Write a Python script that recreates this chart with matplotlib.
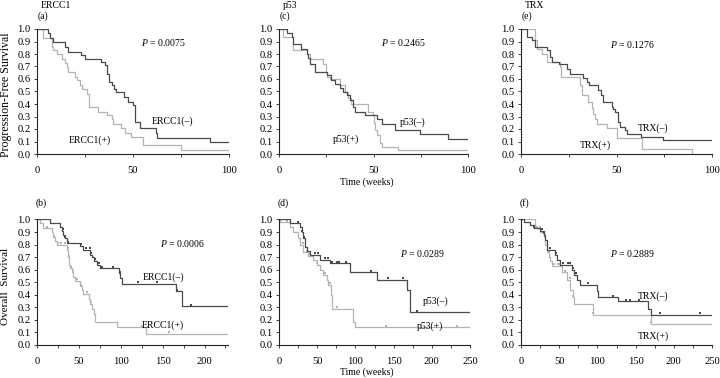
import matplotlib
matplotlib.use("Agg")
import matplotlib.pyplot as plt
import numpy as np
from matplotlib.ticker import MultipleLocator, FormatStrFormatter

plt.rcParams['font.family'] = ['Liberation Serif', 'DejaVu Serif']
plt.rcParams['mathtext.fontset'] = 'custom'
plt.rcParams['mathtext.rm'] = 'Liberation Serif'
plt.rcParams['mathtext.it'] = 'Liberation Serif:italic'

DARK = '#4a4a4a'
LIGHT = '#b4b4b4'

# ---- Progression-free survival (weeks) ----
ercc1_neg_pfs_t = [0, 5.6, 6.8, 8.5, 14.6, 16.3, 23, 25, 33.3, 35.4, 36.6, 37.5, 38.9, 40.3, 41.1,
                   45.3, 47.6, 50.2, 51, 53.6, 62, 62.5, 90]
ercc1_neg_pfs_s = [1.0, 0.97, 0.93, 0.90, 0.86, 0.82, 0.79, 0.76, 0.74, 0.71, 0.64, 0.58, 0.55, 0.52, 0.50,
                   0.46, 0.42, 0.39, 0.26, 0.21, 0.17, 0.13, 0.10]
ercc1_pos_pfs_t = [0, 3.3, 7.6, 8.5, 10.6, 12.8, 14.6, 15.5, 16.3, 19.8, 21, 22.4, 23.6, 26.2, 27.3,
                   31.9, 36.3, 38.9, 39.8, 44, 45.8, 49.2, 55, 74.8]
ercc1_pos_pfs_s = [1.0, 0.93, 0.86, 0.83, 0.80, 0.76, 0.73, 0.70, 0.66, 0.62, 0.59, 0.55, 0.52, 0.48, 0.38,
                   0.34, 0.31, 0.28, 0.24, 0.21, 0.17, 0.14, 0.07, 0.03]

p53_neg_pfs_t = [0, 4.4, 6.7, 7.2, 11.5, 14.6, 15.5, 16.4, 19, 25.2, 27.3, 29.6, 32.3, 34, 35.8, 37.6,
                 39.3, 40.2, 45.5, 51.7, 54.3, 61.4, 74.6, 89.6]
p53_neg_pfs_s = [1.0, 0.97, 0.94, 0.88, 0.84, 0.80, 0.77, 0.72, 0.66, 0.63, 0.59, 0.56, 0.53, 0.50,
                 0.47, 0.43, 0.38, 0.34, 0.31, 0.28, 0.24, 0.19, 0.16, 0.12]
p53_pos_pfs_t = [0, 2.3, 7.6, 14.6, 16.4, 23.5, 24.9, 25.6, 27, 32.3, 35, 36.7, 37.9, 47.3, 49.5,
                 50.3, 50.8, 51.7, 53.4, 54.3, 63]
p53_pos_pfs_s = [1.0, 0.94, 0.83, 0.80, 0.76, 0.72, 0.66, 0.62, 0.60, 0.55, 0.50, 0.45, 0.40, 0.34,
                 0.31, 0.25, 0.19, 0.15, 0.09, 0.06, 0.03]

trx_neg_pfs_t = [0, 3.1, 5.7, 7.5, 13.6, 15.3, 16.2, 19.7, 24.3, 25.7, 32.7, 34.4, 35.8, 40.5, 41.7,
                 43.1, 47.5, 48, 49.2, 51, 51.8, 54.4, 55.3, 63, 74.4]
trx_neg_pfs_s = [1.0, 0.94, 0.91, 0.86, 0.83, 0.78, 0.74, 0.72, 0.68, 0.64, 0.61, 0.58, 0.55, 0.51,
                 0.47, 0.42, 0.38, 0.36, 0.34, 0.26, 0.22, 0.19, 0.16, 0.14, 0.11]
trx_pos_pfs_t = [0, 7.5, 8.2, 10.8, 13.6, 20.3, 21.1, 31, 31.9, 35.3, 37.1, 37.9, 38.8, 39.6,
                 44.9, 50.4, 63.1, 89.6]
trx_pos_pfs_s = [1.0, 0.91, 0.84, 0.80, 0.74, 0.70, 0.62, 0.55, 0.47, 0.42, 0.37, 0.32, 0.28,
                 0.24, 0.21, 0.13, 0.04, 0.0]

# ---- Overall survival (weeks) ----
ercc1_neg_os_t = [0, 15.6, 27.5, 29.5, 31.5, 33.5, 35.5, 51.5, 55.5, 63.5, 65.5, 67.5, 71.5, 75.4,
                  97.4, 99.4, 101.4, 166, 173]
ercc1_neg_os_s = [1.0, 0.97, 0.94, 0.91, 0.88, 0.85, 0.81, 0.79, 0.76, 0.72, 0.70, 0.67, 0.64, 0.61,
                  0.57, 0.53, 0.49, 0.43, 0.31]
ercc1_neg_os_c = [30.5, 34, 36.7, 52, 59, 62.7, 65, 69, 72.5, 74, 77.4, 90.6, 99, 120, 143, 167, 184]
ercc1_pos_os_t = [0, 3.6, 7.6, 17.6, 19.6, 21.6, 23.6, 35.5, 37.5, 38.7, 39.5, 41.5, 43.5, 45.5,
                  51.5, 53.5, 55.5, 61.5, 63.5, 65.5, 67.5, 69.5, 95.4, 130]
ercc1_pos_os_s = [1.0, 0.97, 0.93, 0.90, 0.86, 0.83, 0.80, 0.76, 0.70, 0.64, 0.61, 0.58, 0.54, 0.51,
                  0.47, 0.44, 0.41, 0.37, 0.33, 0.29, 0.25, 0.18, 0.14, 0.09]
ercc1_pos_os_c = [11.6, 20.8, 25, 28.7, 33.5, 36.7, 38.3, 40.7, 42.7, 47.5, 52.5, 59.5, 64,
                  125, 157]

p53_neg_os_t = [0, 14.4, 27.5, 29.7, 31.9, 34, 36.2, 40.6, 53.7, 66.8, 93, 127.8, 167, 171.5]
p53_neg_os_s = [1.0, 0.97, 0.94, 0.90, 0.85, 0.78, 0.75, 0.72, 0.68, 0.65, 0.58, 0.52, 0.44, 0.26]
p53_neg_os_c = [25.3, 29.7, 32.7, 47, 50.6, 60, 64.6, 70, 76, 79, 87.7, 120, 143, 162.7, 180]
p53_pos_os_t = [0, 1.3, 14.4, 18.8, 25.3, 27.5, 31.9, 38.4, 44.9, 49.2, 53.7, 58, 62.4, 64.6, 67.7,
                69, 97.3, 99.5]
p53_pos_os_s = [1.0, 0.98, 0.94, 0.90, 0.85, 0.80, 0.74, 0.71, 0.68, 0.64, 0.60, 0.56, 0.52, 0.48,
                0.40, 0.29, 0.18, 0.14]
p53_pos_os_c = [10, 31.8, 36.2, 38.8, 40.6, 50.2, 60, 66.8, 75.5, 140, 233]

trx_neg_os_t = [0, 3.5, 12.2, 16.5, 25, 29.6, 31.8, 34, 44.8, 47, 51.3, 66.5, 69.6, 73, 77.4, 99,
                100.4, 127, 166.5, 169.6]
trx_neg_os_s = [1.0, 0.98, 0.96, 0.93, 0.91, 0.88, 0.84, 0.76, 0.72, 0.68, 0.64, 0.60, 0.56, 0.52,
                0.48, 0.43, 0.38, 0.35, 0.29, 0.24]
trx_neg_os_c = [16.5, 27.4, 29.6, 38, 46, 55.6, 61, 63.5, 68, 72, 88, 121, 138, 143, 155, 182, 234]
trx_pos_os_t = [0, 18.7, 25.2, 29.6, 31.8, 34, 36.2, 38.4, 40.6, 53.5, 60, 64.3, 67.8, 70,
                94.8, 169.6]
trx_pos_os_s = [1.0, 0.93, 0.90, 0.86, 0.80, 0.74, 0.70, 0.67, 0.63, 0.58, 0.52, 0.44, 0.38, 0.33,
                0.24, 0.17]
trx_pos_os_c = [7.8, 20.9, 25, 31.7, 36, 42.6, 47.8, 51.3, 57.8, 63.5, 68.7, 94.8, 169.6]

panels = [
    dict(col=0, row=0, letter='(a)', title='ERCC1', xmax=100,
         neg=(ercc1_neg_pfs_t, ercc1_neg_pfs_s, 100, None),
         pos=(ercc1_pos_pfs_t, ercc1_pos_pfs_s, 100, None),
         p='0.0075', pxy=(66, 0.89), nxy=(70.5, 0.265), sxy=(27.4, 0.11),
         nlab='ERCC1(\u2013)', slab='ERCC1(+)'),
    dict(col=1, row=0, letter='(c)', title='p53', xmax=100,
         neg=(p53_neg_pfs_t, p53_neg_pfs_s, 100, None),
         pos=(p53_pos_pfs_t, p53_pos_pfs_s, 100, None),
         p='0.2465', pxy=(66, 0.89), nxy=(70.5, 0.255), sxy=(35.3, 0.12),
         nlab='p53(\u2013)', slab='p53(+)'),
    dict(col=2, row=0, letter='(e)', title='TRX', xmax=100,
         neg=(trx_neg_pfs_t, trx_neg_pfs_s, 100, None),
         pos=(trx_pos_pfs_t, trx_pos_pfs_s, 89.6, None),
         p='0.1276', pxy=(58.4, 0.88), nxy=(69.2, 0.205), sxy=(39, 0.07),
         nlab='TRX(\u2013)', slab='TRX(+)'),
    dict(col=0, row=1, letter='(b)', title=None, xmax=228,
         neg=(ercc1_neg_os_t, ercc1_neg_os_s, 228, ercc1_neg_os_c),
         pos=(ercc1_pos_os_t, ercc1_pos_os_s, 228, ercc1_pos_os_c),
         p='0.0006', pxy=(173, 0.805), nxy=(151, 0.54), sxy=(150, 0.16),
         nlab='ERCC1(\u2013)', slab='ERCC1(+)'),
    dict(col=1, row=1, letter='(d)', title=None, xmax=250,
         neg=(p53_neg_os_t, p53_neg_os_s, 250, p53_neg_os_c),
         pos=(p53_pos_os_t, p53_pos_os_s, 250, p53_pos_os_c),
         p='0.0289', pxy=(188, 0.73), nxy=(205, 0.35), sxy=(197.6, 0.147),
         nlab='p53(\u2013)', slab='p53(+)'),
    dict(col=2, row=1, letter='(f)', title=None, xmax=250,
         neg=(trx_neg_os_t, trx_neg_os_s, 250, trx_neg_os_c),
         pos=(trx_pos_os_t, trx_pos_os_s, 250, trx_pos_os_c),
         p='0.2889', pxy=(145.7, 0.73), nxy=(173.5, 0.39), sxy=(173.5, 0.07),
         nlab='TRX(\u2013)', slab='TRX(+)'),
]

lefts = [37, 279, 521]
top_w = [192, 189, 191]
bot_w = [191, 191, 191]
W, H = 720, 378

fig = plt.figure(figsize=(7.2, 3.78), dpi=100)

FS = 7
TICK_FS = 7.6


def draw_curve(ax, t, s, end, cens, color):
    t = np.asarray(t, float)
    s = np.asarray(s, float)
    ax.step(np.append(t, end), np.append(s, s[-1]), where='post', color=color, lw=0.9)
    if cens is not None:
        c = np.asarray(cens, float)
        cy = s[np.searchsorted(t, c, side='right') - 1]
        ax.plot(c, cy + 0.012, 's', ms=2.0, color=color, mew=0)


for pnl in panels:
    col, row = pnl['col'], pnl['row']
    if row == 0:
        y0, y1 = 154, 29
        w = top_w[col]
    else:
        y0, y1 = 345, 219.5
        w = bot_w[col]
    ax = fig.add_axes([lefts[col] / W, 1 - y0 / H, w / W, (y0 - y1) / H])
    draw_curve(ax, *pnl['pos'], LIGHT)
    draw_curve(ax, *pnl['neg'], DARK)
    ax.set_xlim(0, pnl['xmax'])
    ax.set_ylim(0, 1.0)
    ax.spines['top'].set_visible(False)
    ax.spines['right'].set_visible(False)
    for sp in ('left', 'bottom'):
        ax.spines[sp].set_linewidth(0.8)
        ax.spines[sp].set_color('#222222')
    ax.yaxis.set_major_locator(MultipleLocator(0.1))
    ax.yaxis.set_major_formatter(FormatStrFormatter('%.1f'))
    ax.xaxis.set_major_locator(MultipleLocator(50))
    ax.xaxis.set_minor_locator(MultipleLocator(25))
    ax.tick_params(which='both', direction='out', labelsize=TICK_FS, width=0.6, color='#222222')
    ax.tick_params(which='major', length=2.5, pad=2)
    ax.tick_params(which='minor', length=2)
    ax.tick_params(axis='x', pad=6)
    ax.patch.set_alpha(0)

    ax.text(*pnl['pxy'], '$P$ = ' + pnl['p'], fontsize=FS, ha='center', va='center')
    ax.text(*pnl['nxy'], pnl['nlab'], fontsize=FS, ha='center', va='center')
    ax.text(*pnl['sxy'], pnl['slab'], fontsize=FS, ha='center', va='center')

    lx = lefts[col] + 1
    if row == 0:
        fig.text(lx / W, 1 - 16 / H, pnl['letter'], fontsize=FS, ha='left', va='center')
        fig.text((lx + 3) / W, 1 - 6 / H, pnl['title'], fontsize=FS, ha='left', va='center')
    else:
        fig.text((lx - 2) / W, 1 - 203 / H, pnl['letter'], fontsize=FS, ha='left', va='center')

fig.text(6 / W, 1 - 95 / H, 'Progression-Free Survival', rotation=90, fontsize=8.6,
         ha='center', va='center')
fig.text(6 / W, 1 - 286 / H, 'Overall  Survival', rotation=90, fontsize=8,
         ha='center', va='center')
fig.text(367 / W, 1 - 182 / H, 'Time (weeks)', fontsize=FS, ha='center', va='center')
fig.text(367 / W, 1 - 372 / H, 'Time (weeks)', fontsize=FS, ha='center', va='center')

fig.savefig('out.png', dpi=100)
